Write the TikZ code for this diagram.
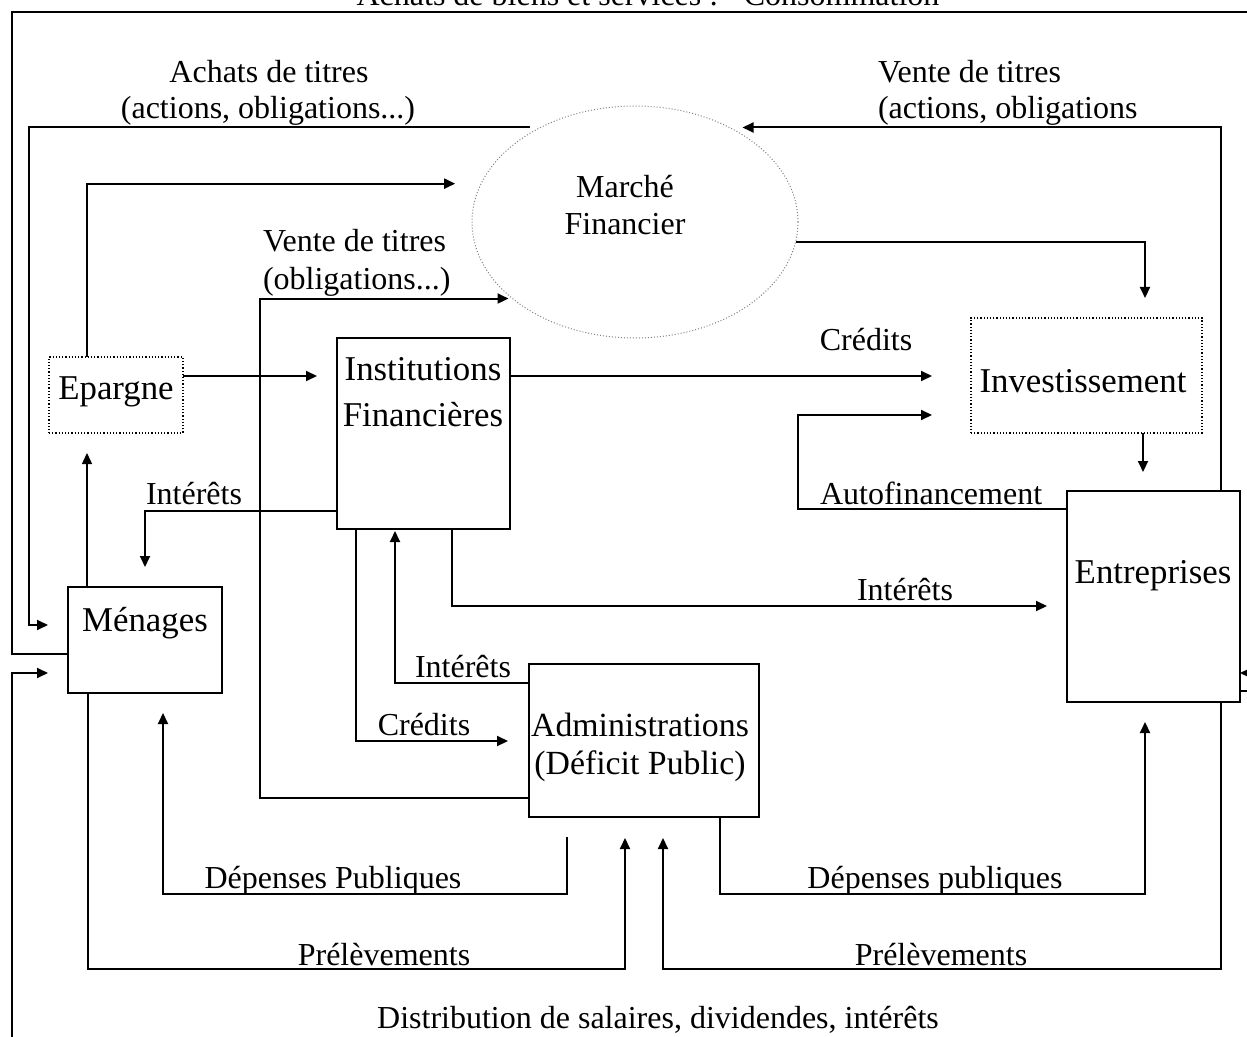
\documentclass[tikz,border=0pt]{standalone}
\usepackage{fontspec}
\setmainfont{Liberation Serif}
\usetikzlibrary{arrows.meta,shapes.geometric,calc}
\begin{document}
\begin{tikzpicture}[x=0.5pt,y=-0.5pt,
  every node/.style={inner sep=0pt, outer sep=0pt},
  txt/.style={font=\fontsize{17.4}{20}\selectfont, anchor=base},
  lbl/.style={font=\fontsize{16}{19}\selectfont, anchor=base},
  llbl/.style={lbl, anchor=base west},
  box/.style={draw, line width=0.8pt, rectangle},
  dbox/.style={draw, line width=0.6pt, densely dotted, rectangle},
  conn/.style={line width=1pt},
  arr/.style={conn, -{Triangle[length=5.5pt,width=5pt]}},
]
\useasboundingbox (0,0) rectangle (1247,1037);
\clip (0,0) rectangle (1247,1037);

% nodes
\node[box, minimum width=77pt, minimum height=53pt] (men) at (145,640) {};
\node[dbox, minimum width=67pt, minimum height=38pt] (epa) at (116,395) {};
\node[box, minimum width=86.5pt, minimum height=95.5pt] (inst) at (423.5,433.5) {};
\node[box, minimum width=115pt, minimum height=76.5pt] (adm) at (644,740.5) {};
\node[dbox, minimum width=115.5pt, minimum height=57.5pt] (inv) at (1086.5,375.5) {};
\node[box, minimum width=86.5pt, minimum height=105.5pt] (ent) at (1153.5,596.5) {};
\node[ellipse, draw=gray, densely dotted, line width=0.5pt, minimum width=163pt, minimum height=116pt] (mf) at (635,222) {};

% node texts
\node[txt] (menT) at (145,631) {Ménages};
\node[txt] (epaT) at (116,400) {Epargne};
\node[txt] (instT1) at (423,380) {Institutions};
\node[txt] (instT2) at (423,427) {Financières};
\node[txt, font=\fontsize{16.9}{20}\selectfont] (admT1) at (640,736) {Administrations};
\node[txt, font=\fontsize{16.9}{20}\selectfont] (admT2) at (640,774) {(Déficit Public)};
\node[txt] (invT) at (1083,393) {Investissement};
\node[txt] (entT) at (1153,583) {Entreprises};
\node[txt, font=\fontsize{16}{19}\selectfont] (mfT1) at (625,198) {Marché};
\node[txt, font=\fontsize{16}{19}\selectfont] (mfT2) at (625,235) {Financier};

% connectors
\draw[arr] (men.west |- 0,654) -- (12,654) -- (12,12) -- (1275,12) -- (1275,673) -- (ent.east |- 0,673);
\draw[arr, shorten >=10pt] (ent.east |- 0,691) -- (1262,691) -- (1262,1060) -- (12,1060) -- (12,673) -- (men.west |- 0,673);
\draw[arr, shorten <=5pt, shorten >=10pt] (mf.135) -- (29,0 |- mf.135) -- (29,625) -- (men.west |- 0,625);
\draw[arr, shorten >=6.5pt] (1221,0 |- ent.north) -- (1221,0 |- mf.45) -- (mf.45);
\draw[arr, shorten >=13pt] (87,0 |- epa.north) |- (mf.166);
\draw[arr, shorten >=2pt] (adm.west |- 0,798) -- (260,798) |- (mf.212);
\draw[arr, shorten >=10pt] (epa.east |- 0,376) -- (inst.west |- 0,376);
\draw[arr, shorten >=19.5pt] (inst.east |- 0,376) -- (inv.west |- 0,376);
\draw[arr, shorten >=19.5pt] (ent.west |- 0,509) -- (798,509) |- (inv.west |- 0,415);
\draw[arr, shorten >=9.5pt] (1143,0 |- inv.south) -- (1143,0 |- ent.north);
\draw[arr, shorten >=10pt] (mf.353) -| (1145,0 |- inv.north);
\draw[arr, shorten >=10pt] (inst.west |- 0,511) -| (145,0 |- men.north);
\draw[arr, line width=0.7pt, shorten >=10pt] (87,0 |- men.north) -- (87,0 |- epa.south);
\draw[arr, shorten >=10.5pt] (356,0 |- inst.south) |- (adm.west |- 0,741);
\draw[arr, shorten >=1pt] (adm.west |- 0,683) -| (395,0 |- inst.south);
\draw[arr, shorten >=10pt] (452,0 |- inst.south) |- (ent.west |- 0,606);
\draw[arr, shorten <=10pt, shorten >=10pt] (567,0 |- adm.south) -- (567,894) -| (163,0 |- men.south);
\draw[arr, shorten >=10pt] (720,0 |- adm.south) -- (720,894) -| (1145,0 |- ent.south);
\draw[arr, shorten >=10.5pt] (88,0 |- men.south) -- (88,969) -| (625,0 |- adm.south);
\draw[arr, shorten >=10.5pt] (1221,0 |- ent.south) -- (1221,969) -| (663,0 |- adm.south);

% labels
\node[lbl] (lConso) at (648,6) {Achats de biens et services :\hspace{0.8em}Consommation};
\node[lbl] (lAch1) at (269,83) {Achats de titres};
\node[lbl] (lAch2) at (268,119) {(actions, obligations...)};
\node[llbl] (lVen1) at (878,83) {Vente de titres};
\node[llbl] (lVen2) at (878,119) {(actions, obligations};
\node[llbl] (lVob1) at (263,252) {Vente de titres};
\node[llbl] (lVob2) at (263,290) {(obligations...)};
\node[lbl] (lCred1) at (866,351) {Crédits};
\node[llbl] (lInt1) at (146,504) {Intérêts};
\node[llbl] (lAuto) at (820,504) {Autofinancement};
\node[lbl] (lInt2) at (905,600) {Intérêts};
\node[lbl] (lInt3) at (463,677) {Intérêts};
\node[lbl] (lCred2) at (424,735) {Crédits};
\node[lbl] (lDep1) at (333,888) {Dépenses Publiques};
\node[lbl] (lDep2) at (935,888) {Dépenses publiques};
\node[lbl] (lPre1) at (384,965) {Prélèvements};
\node[lbl] (lPre2) at (941,965) {Prélèvements};
\node[lbl] (lDist) at (658,1028) {Distribution de salaires, dividendes, intérêts};
\end{tikzpicture}
\end{document}
